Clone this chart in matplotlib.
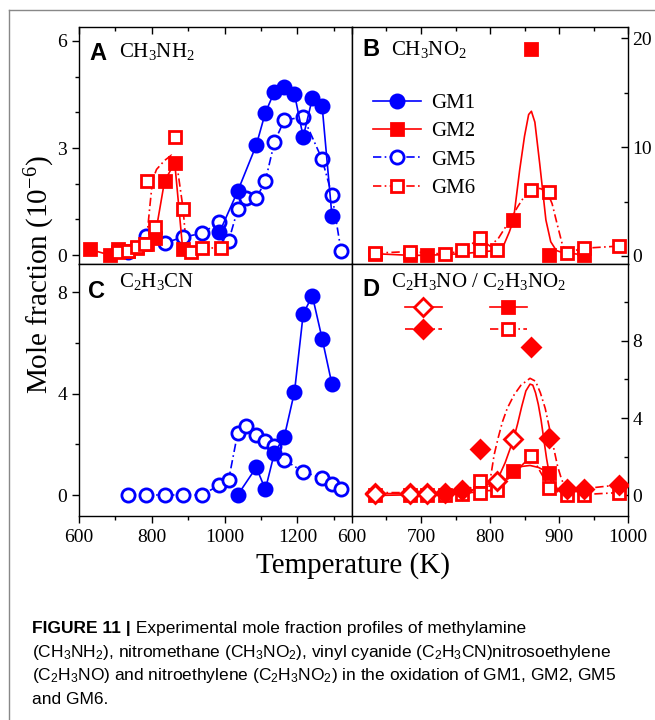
import numpy as np
import matplotlib.pyplot as plt
from matplotlib.lines import Line2D
from matplotlib.ticker import MultipleLocator

plt.rcParams['font.family'] = 'Liberation Serif'
plt.rcParams['mathtext.fontset'] = 'custom'
plt.rcParams['mathtext.rm'] = 'Liberation Serif'
plt.rcParams['mathtext.it'] = 'Liberation Serif:italic'
plt.rcParams['mathtext.sf'] = 'Liberation Sans'

BLUE = '#0000ff'
RED = '#ff0000'

# ---- panel A : CH3NH2 ----
a_gm1_T = [986, 1036, 1087, 1112, 1137, 1164, 1192, 1216, 1241, 1268, 1295]
a_gm1 = [0.64, 1.79, 3.08, 3.99, 4.58, 4.72, 4.51, 3.31, 4.39, 4.17, 1.09]
a_gm5_T = [734, 784, 835, 885, 937, 986, 1011, 1036, 1060, 1087, 1112, 1137, 1164, 1216, 1268, 1295, 1320]
a_gm5 = [0.1, 0.53, 0.34, 0.5, 0.61, 0.92, 0.39, 1.28, 1.59, 1.59, 2.08, 3.17, 3.78, 3.87, 2.68, 1.68, 0.12]
a_gm2_T = [630, 685, 707, 734, 759, 786, 808, 835, 863, 885]
a_gm2 = [0.16, 0.0, 0.16, 0.12, 0.2, 0.3, 0.47, 2.07, 2.59, 0.16]
a_gm6_T = [707, 734, 759, 780, 788, 808, 863, 885, 909, 937, 989]
a_gm6 = [0.1, 0.11, 0.22, 0.31, 2.08, 0.78, 3.3, 1.28, 0.1, 0.2, 0.2]
a_gm6_fit_T = [707, 760, 785, 794, 802, 813, 835, 854, 868, 886, 895, 937, 989]
a_gm6_fit = [0.1, 0.22, 0.35, 1.3, 2.1, 2.4, 2.65, 2.8, 2.6, 1.3, 0.2, 0.2, 0.2]

# ---- panel B : CH3NO2 ----
b_gm2_T = [633, 684, 709, 834, 860, 886, 936]
b_gm2 = [0.2, 0.05, 0.05, 3.3, 19.0, 0.1, 0.1]
b_gm2_fit_T = [633, 684, 709, 760, 810, 820, 828, 834, 843, 850, 856, 860, 865,
               872, 881, 888, 896, 905, 936]
b_gm2_fit = [0.2, 0.05, 0.05, 0.2, 0.5, 1.0, 2.2, 3.3, 7.9, 11.0, 13.0, 13.3, 12.3,
             8.5, 3.3, 1.3, 0.5, 0.3, 0.1]
b_gm6_T = [633, 684, 735, 760, 785, 785, 810, 860, 886, 911, 936, 987]
b_gm6 = [0.25, 0.4, 0.15, 0.5, 1.6, 0.5, 0.55, 6.1, 5.9, 0.3, 0.7, 0.9]
b_gm6_fit_T = [633, 684, 735, 760, 785, 800, 812, 826, 840, 850, 860, 872, 882,
               890, 897, 905, 911, 936, 987]
b_gm6_fit = [0.25, 0.4, 0.15, 0.5, 1.6, 0.9, 1.6, 3.0, 4.5, 5.5, 6.1, 6.2, 6.0,
             4.8, 3.0, 1.0, 0.3, 0.7, 0.9]

# ---- panel C : C2H3CN ----
c_gm1_T = [1036, 1087, 1112, 1137, 1164, 1192, 1216, 1241, 1268, 1295]
c_gm1 = [0.0, 1.09, 0.22, 1.67, 2.3, 4.07, 7.15, 7.87, 6.17, 4.37]
c_gm5_T = [734, 784, 835, 885, 937, 986, 1011, 1036, 1060, 1087, 1112, 1137, 1164, 1216, 1268, 1295, 1320]
c_gm5 = [0.0, 0.0, 0.0, 0.0, 0.0, 0.39, 0.59, 2.45, 2.72, 2.36, 2.12, 1.93, 1.38, 0.92, 0.66, 0.43, 0.22]

# ---- panel D : C2H3NO / C2H3NO2 ----
d_no_gm2_T = [633, 684, 709, 810, 834]
d_no_gm2 = [0.1, 0.1, 0.1, 0.75, 2.9]
d_no_gm2_fit_T = [633, 709, 760, 810, 822, 834, 840, 846, 852, 858, 862, 866, 870,
                  874, 878, 882, 886, 890, 898]
d_no_gm2_fit = [0.1, 0.1, 0.1, 0.75, 1.7, 2.9, 3.7, 4.6, 5.4, 5.75, 5.7, 5.3, 4.7,
                3.9, 2.9, 1.9, 1.1, 0.5, 0.2]
d_no_gm6_T = [633, 684, 709, 735, 760, 785, 860, 886, 911, 936, 987]
d_no_gm6 = [0.15, 0.15, 0.15, 0.15, 0.3, 2.39, 7.66, 2.95, 0.35, 0.35, 0.55]
d_no_gm6_fit_T = [633, 735, 785, 798, 802, 806, 812, 818, 825, 835, 845, 858, 866,
                  873, 880, 886, 892, 898, 904, 911, 936, 987]
d_no_gm6_fit = [0.15, 0.15, 0.25, 0.3, 1.2, 2.1, 3.0, 3.8, 4.5, 5.2, 5.7, 6.05, 5.9,
                5.3, 4.5, 3.5, 2.5, 1.5, 0.8, 0.35, 0.35, 0.55]
d_no2_gm2_T = [633, 709, 834, 886]
d_no2_gm2 = [0.0, 0.05, 1.25, 1.17]
d_no2_gm2_fit_T = [633, 709, 760, 810, 822, 834, 846, 858, 870, 886, 898, 911]
d_no2_gm2_fit = [0.0, 0.05, 0.1, 0.3, 0.8, 1.25, 1.5, 1.55, 1.45, 1.17, 0.3, 0.05]
d_no2_gm6_T = [684, 735, 760, 785, 785, 810, 860, 886, 911, 936, 987]
d_no2_gm6 = [0.05, 0.05, 0.1, 0.73, 0.15, 0.3, 2.04, 0.4, 0.05, 0.05, 0.15]

dd = (0, (5, 2, 1, 2))
msz = 9.5


def pts(ax, T, v, kind, ls='none', z=3):
    c = BLUE if kind in ('GM1', 'GM5') else RED
    m = 'o' if kind in ('GM1', 'GM5') else 's'
    ms = msz if m == 'o' else msz - 0.8
    face = c if kind in ('GM1', 'GM2') else 'white'
    ax.plot(T, v, linestyle=ls, color=c, lw=1.2, marker=m, ms=ms, mfc=face,
            mec=c, mew=2.0, zorder=z)


fig = plt.figure(figsize=(6.55, 7.2), dpi=100)
L, M, R = 0.1206, 0.5374, 0.9588
B0, B1, B2 = 0.2833, 0.6333, 0.9625
axA = fig.add_axes([L, B1, M - L, B2 - B1])
axB = fig.add_axes([M, B1, R - M, B2 - B1])
axC = fig.add_axes([L, B0, M - L, B1 - B0])
axD = fig.add_axes([M, B0, R - M, B1 - B0])

# A
axA.plot(a_gm6_fit_T, a_gm6_fit, ls=dd, color=RED, lw=1.2, zorder=2)
pts(axA, a_gm5_T, a_gm5, 'GM5', ls=dd)
pts(axA, a_gm1_T, a_gm1, 'GM1', ls='-')
pts(axA, a_gm2_T, a_gm2, 'GM2', ls='-')
pts(axA, a_gm6_T, a_gm6, 'GM6', z=4)

# B
axB.plot(b_gm2_fit_T, b_gm2_fit, '-', color=RED, lw=1.2, zorder=2)
axB.plot(b_gm6_fit_T, b_gm6_fit, ls=dd, color=RED, lw=1.2, zorder=2)
pts(axB, b_gm2_T, b_gm2, 'GM2')
pts(axB, b_gm6_T, b_gm6, 'GM6', z=4)

# C
pts(axC, c_gm5_T, c_gm5, 'GM5', ls=dd)
pts(axC, c_gm1_T, c_gm1, 'GM1', ls='-')

# D
axD.plot(d_no_gm2_fit_T, d_no_gm2_fit, '-', color=RED, lw=1.2, zorder=2)
axD.plot(d_no_gm6_fit_T, d_no_gm6_fit, ls=dd, color=RED, lw=1.2, zorder=2)
axD.plot(d_no2_gm2_fit_T, d_no2_gm2_fit, '-', color=RED, lw=1.2, zorder=2)
axD.plot(d_no2_gm2_T, d_no2_gm2, ls='none', marker='s', ms=msz - 0.8,
         mfc=RED, mec=RED, mew=2, zorder=3)
axD.plot(d_no2_gm6_T, d_no2_gm6, ls=dd, color=RED, lw=1.2, marker='s', ms=msz - 0.8,
         mfc='white', mec=RED, mew=2, zorder=4)
axD.plot(d_no_gm6_T, d_no_gm6, ls='none', marker='D', ms=msz - 0.5, mfc=RED,
         mec=RED, mew=2, zorder=5)
axD.plot(d_no_gm2_T, d_no_gm2, ls='none', marker='D', ms=msz - 0.5, mfc='white',
         mec=RED, mew=2, zorder=6)

# axes limits / ticks
axA.set_xlim(600, 1350); axC.set_xlim(600, 1350)
axB.set_xlim(600, 1000); axD.set_xlim(600, 1000)
axA.set_ylim(-0.25, 6.39)
axB.set_ylim(-0.75, 21.05)
axC.set_ylim(-0.83, 9.12)
axD.set_ylim(-1.06, 11.95)

for ax in (axA, axC):
    ax.xaxis.set_major_locator(MultipleLocator(200))
    ax.xaxis.set_minor_locator(MultipleLocator(100))
for ax in (axB, axD):
    ax.xaxis.set_major_locator(MultipleLocator(100))
    ax.xaxis.set_minor_locator(MultipleLocator(50))
axA.yaxis.set_major_locator(MultipleLocator(3)); axA.yaxis.set_minor_locator(MultipleLocator(1))
axB.yaxis.set_major_locator(MultipleLocator(10)); axB.yaxis.set_minor_locator(MultipleLocator(5))
axC.yaxis.set_major_locator(MultipleLocator(4)); axC.yaxis.set_minor_locator(MultipleLocator(2))
axD.yaxis.set_major_locator(MultipleLocator(4)); axD.yaxis.set_minor_locator(MultipleLocator(2))

for ax in (axA, axB, axC, axD):
    for s in ax.spines.values():
        s.set_linewidth(1.0)
    ax.tick_params(which='major', length=5, width=1, labelsize=14)
    ax.tick_params(which='minor', length=3, width=1)
for ax in (axA, axB):
    ax.tick_params(axis='x', which='both', direction='in', top=True, bottom=False,
                   labelbottom=False)
for ax in (axC, axD):
    ax.tick_params(axis='x', which='both', direction='out', top=False, bottom=True,
                   pad=4)
for ax in (axA, axC):
    ax.tick_params(axis='y', which='both', direction='out', left=True, right=False)
for ax in (axB, axD):
    ax.tick_params(axis='y', which='both', direction='in', left=False, right=True,
                   labelleft=False, labelright=True, pad=3)

# panel letters and species
letters = [(axA, 'A', 0.037, 0.889, 0.147, 0.895, r'CH$_3$NH$_2$'),
           (axB, 'B', 0.036, 0.903, 0.14, 0.903, r'CH$_3$NO$_2$'),
           (axC, 'C', 0.033, 0.89, 0.147, 0.93, r'C$_2$H$_3$CN'),
           (axD, 'D', 0.036, 0.897, 0.14, 0.93, r'C$_2$H$_3$NO / C$_2$H$_3$NO$_2$')]
for ax, let, lx, ly, tx, ty, name in letters:
    ax.text(lx, ly, let, transform=ax.transAxes, family='Liberation Sans',
            weight='bold', fontsize=17, va='center', ha='left')
    ax.text(tx, ty, name, transform=ax.transAxes, fontsize=15, va='center', ha='left')

# legend in B
h = [Line2D([], [], color=BLUE, lw=1.2, marker='o', ms=msz, mfc=BLUE, mec=BLUE, mew=2),
     Line2D([], [], color=RED, lw=1.2, marker='s', ms=msz - 0.8, mfc=RED, mec=RED, mew=2),
     Line2D([], [], color=BLUE, lw=1.2, ls=dd, marker='o', ms=msz, mfc='white', mec=BLUE, mew=2),
     Line2D([], [], color=RED, lw=1.2, ls=dd, marker='s', ms=msz - 0.8, mfc='white', mec=RED, mew=2)]
axB.legend(h, ['GM1', 'GM2', 'GM5', 'GM6'], loc='upper left', bbox_to_anchor=(0.075, 0.72),
           frameon=False, fontsize=15, handlelength=2.3, handletextpad=0.5,
           labelspacing=0.42, borderpad=0, borderaxespad=0)

# legend in D
hd = [Line2D([], [], color=RED, lw=1.2, marker='D', ms=msz - 0.5, mfc='white', mec=RED, mew=2),
      Line2D([], [], color=RED, lw=1.2, ls=dd, marker='D', ms=msz - 0.5, mfc=RED, mec=RED, mew=2),
      Line2D([], [], color=RED, lw=1.2, marker='s', ms=msz - 0.8, mfc=RED, mec=RED, mew=2),
      Line2D([], [], color=RED, lw=1.2, ls=dd, marker='s', ms=msz - 0.8, mfc='white', mec=RED, mew=2)]
axD.legend(hd, [' '] * 4, ncol=2, loc='upper left', bbox_to_anchor=(0.192, 0.85),
           frameon=False, fontsize=11, handlelength=2.4, handletextpad=0,
           columnspacing=2.9, labelspacing=0.55, borderpad=0, borderaxespad=0)

fig.text(0.061, 0.618, r'Mole fraction (10$^{-6}$)', rotation=90, fontsize=21,
         ha='center', va='center')
fig.text(0.539, 0.215, 'Temperature (K)', fontsize=21, ha='center', va='center')

# page frame
fig.add_artist(Line2D([0.013, 0.013], [0.0, 0.986], color='#888888', lw=1.0))
fig.add_artist(Line2D([0.013, 1.0], [0.986, 0.986], color='#888888', lw=1.0))

# caption
cap_font = 'Liberation Sans'
cap_size = 12.5
t0 = fig.text(0.049, 1 - 628 / 720, 'FIGURE 11 |', family=cap_font, weight='bold',
              fontsize=cap_size, va='center', ha='left')
caption_lines = [
    r'(CH$_\mathsf{3}$NH$_\mathsf{2}$), nitromethane (CH$_\mathsf{3}$NO$_\mathsf{2}$), vinyl cyanide (C$_\mathsf{2}$H$_\mathsf{3}$CN)nitrosoethylene',
    r'(C$_\mathsf{2}$H$_\mathsf{3}$NO) and nitroethylene (C$_\mathsf{2}$H$_\mathsf{3}$NO$_\mathsf{2}$) in the oxidation of GM1, GM2, GM5',
    'and GM6.',
]
fig.canvas.draw()
bb = t0.get_window_extent()
fig.text(bb.x1 / fig.bbox.width, 1 - 628 / 720, ' Experimental mole fraction profiles of methylamine',
         family=cap_font, fontsize=cap_size, va='center', ha='left')
for i, line in enumerate(caption_lines):
    fig.text(0.049, 1 - (652 + 23.5 * i) / 720, line, family=cap_font, fontsize=cap_size,
             va='center', ha='left')

fig.savefig('out.png', dpi=100)
